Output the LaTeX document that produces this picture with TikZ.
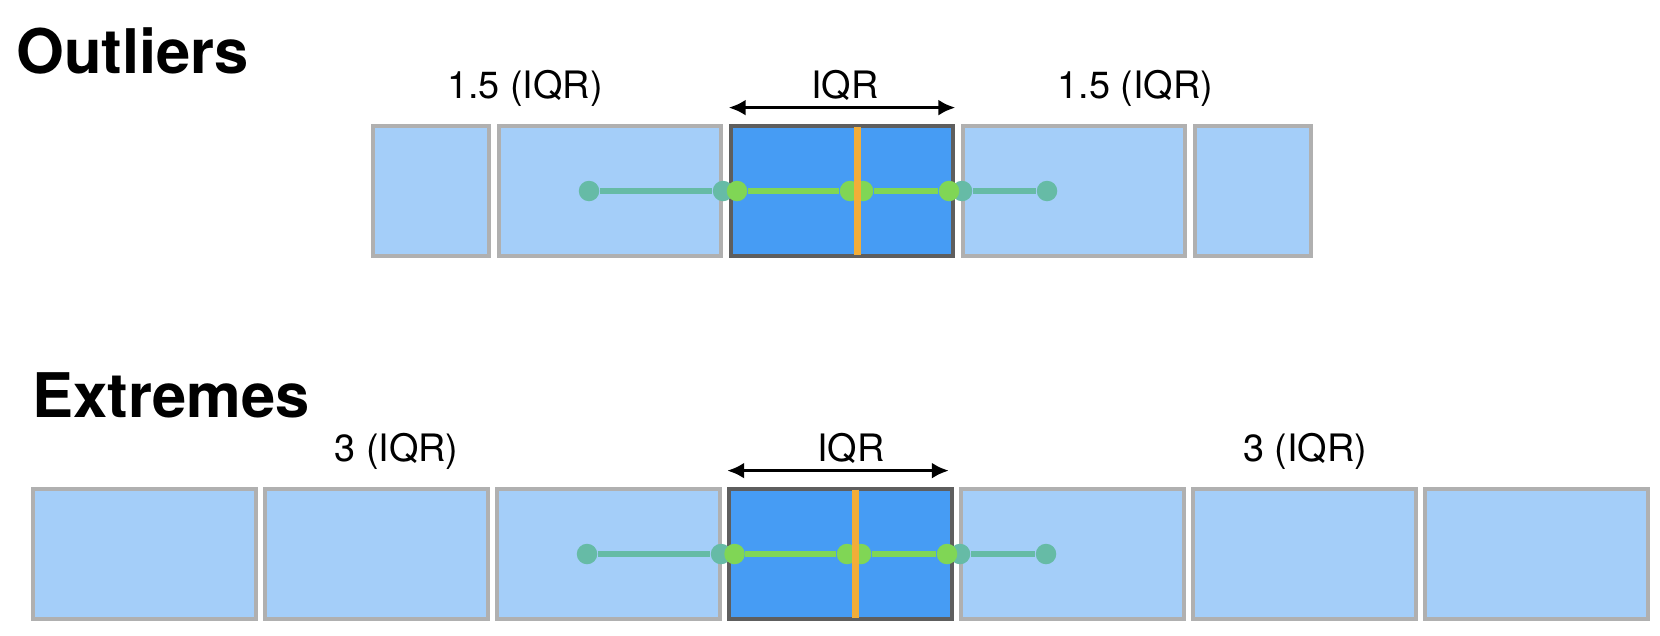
\documentclass[tikz,border=0pt]{standalone}
\usepackage{fontspec}
\setmainfont{TeX Gyre Heros}
\usepackage{tikz}
\usetikzlibrary{arrows.meta}
\definecolor{boxlight}{HTML}{A4CEF9}
\definecolor{boxgray}{HTML}{B0B0B0}
\definecolor{iqrblue}{HTML}{469CF4}
\definecolor{boxdark}{HTML}{5E5E5E}
\definecolor{wteal}{HTML}{66BBA6}
\definecolor{wgreen}{HTML}{80D655}
\definecolor{medorange}{HTML}{F2AD38}

\begin{document}
\begin{tikzpicture}[
    side/.style={draw=boxgray, fill=boxlight, line width=0.075cm, inner sep=0pt, minimum width=4.45cm, minimum height=2.61cm},
    half/.style={side, minimum width=2.33cm},
    quart/.style={draw=boxdark, fill=iqrblue, line width=0.085cm, inner sep=0pt, minimum width=4.45cm, minimum height=2.61cm},
    tdot/.style={circle, fill=wteal, inner sep=0pt, minimum size=0.41cm},
    gdot/.style={circle, fill=wgreen, inner sep=0pt, minimum size=0.41cm},
    wline/.style={draw=wteal, line width=0.12cm},
    gline/.style={draw=wgreen, line width=0.12cm},
    med/.style={draw=medorange, line width=0.14cm, shorten <=0.06cm, shorten >=0.06cm},
    arrow/.style={{Latex[length=0.34cm, width=0.32cm]}-{Latex[length=0.34cm, width=0.32cm]}, line width=0.07cm},
    title/.style={anchor=base west, inner sep=0pt, font=\fontsize{35}{40}\selectfont\bfseries},
    lab/.style={anchor=base, inner sep=0pt, font=\fontsize{21.5}{26}\selectfont}
]
\useasboundingbox (0,0) rectangle (33.2,-12.7);
% 1. Outliers row
\node[title] (otit) at (0.32,-1.46) {Outliers};
\node[half] (o1) at (8.62,-3.82) {};
\node[side] (o2) at (12.2,-3.82) {};
\node[quart] (oq) at (16.84,-3.82) {};
\node[side] (o4) at (21.48,-3.82) {};
\node[half] (o5) at (25.06,-3.82) {};
\node[lab] (olab) at (10.5,-1.96) {1.5 (IQR)};
\node[lab] (oiqr) at (16.9,-1.96) {IQR};
\node[lab] (orab) at (22.71,-1.96) {1.5 (IQR)};
% 2. Outliers whisker
\node[tdot] (owl) at (11.78,-3.82) {};
\node[tdot] (ot1) at (14.46,-3.82) {};
\node[tdot] (ot3) at (19.24,-3.82) {};
\node[tdot] (owr) at (20.94,-3.82) {};
\draw[wline] (owl) -- (ot1);
\draw[wline] (ot3) -- (owr);
\node[gdot] (og1) at (14.74,-3.82) {};
\node[gdot] (oma) at (17.0,-3.82) {};
\node[gdot] (omb) at (17.26,-3.82) {};
\node[gdot] (og3) at (18.98,-3.82) {};
\draw[gline] (og1) -- (oma);
\draw[gline] (omb) -- (og3);
\coordinate (omed) at (17.14,-3.82);
\draw[med] (oq.north -| omed) -- (oq.south -| omed);
\draw[arrow] ([yshift=0.32cm]oq.north west) -- ([yshift=0.32cm]oq.north east);
% 3. Extremes row
\node[title] (etit) at (0.64,-8.34) {Extremes};
\node[side] (e1) at (2.89,-11.08) {};
\node[side] (e2) at (7.53,-11.08) {};
\node[side] (e3) at (12.17,-11.08) {};
\node[quart] (eq) at (16.81,-11.08) {};
\node[side] (e5) at (21.45,-11.08) {};
\node[side] (e6) at (26.09,-11.08) {};
\node[side] (e7) at (30.73,-11.08) {};
\node[lab] (elab) at (7.93,-9.22) {3 (IQR)};
\node[lab] (eiqr) at (17.02,-9.22) {IQR};
\node[lab] (erab) at (26.1,-9.22) {3 (IQR)};
% 4. Extremes whisker
\node[tdot] (ewl) at (11.74,-11.08) {};
\node[tdot] (et1) at (14.42,-11.08) {};
\node[tdot] (et3) at (19.2,-11.08) {};
\node[tdot] (ewr) at (20.92,-11.08) {};
\draw[wline] (ewl) -- (et1);
\draw[wline] (et3) -- (ewr);
\node[gdot] (eg1) at (14.69,-11.08) {};
\node[gdot] (ema) at (16.94,-11.08) {};
\node[gdot] (emb) at (17.22,-11.08) {};
\node[gdot] (eg3) at (18.94,-11.08) {};
\draw[gline] (eg1) -- (ema);
\draw[gline] (emb) -- (eg3);
\coordinate (emed) at (17.1,-11.08);
\draw[med] (eq.north -| emed) -- (eq.south -| emed);
\draw[arrow] ([yshift=0.32cm]eq.north west) -- ([yshift=0.32cm, xshift=-0.1cm]eq.north east);
\end{tikzpicture}
\end{document}
